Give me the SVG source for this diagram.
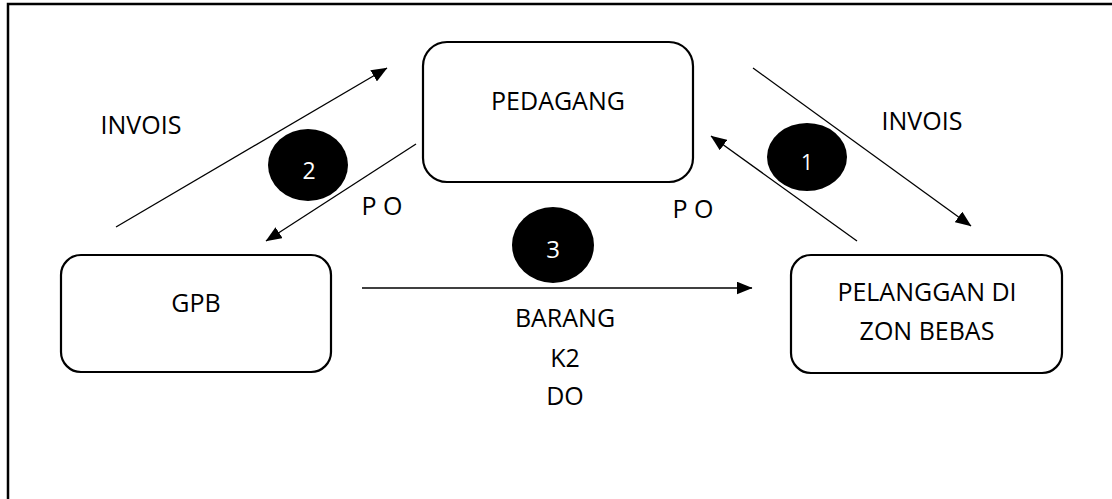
<svg xmlns="http://www.w3.org/2000/svg" width="1112" height="499" viewBox="0 0 1112 499">
<defs>
<style>
.t{font-family:"Open Sans","Noto Sans","Liberation Sans",sans-serif;font-size:25px;fill:#000;text-anchor:middle}
.n{font-family:"Open Sans","Noto Sans","Liberation Sans",sans-serif;fill:#fff;text-anchor:middle}
.box{fill:#fff;stroke:#000;stroke-width:2.2}
.c{stroke:#000;stroke-width:1.3;fill:none}
.dot{fill:#000}
</style>
<marker id="ah" viewBox="0 0 16 13" refX="15.5" refY="6.5" markerWidth="16" markerHeight="13" markerUnits="userSpaceOnUse" orient="auto">
<path d="M0,0 L16,6.5 L0,13 Z" fill="#000"/>
</marker>
</defs>
<rect x="0" y="0" width="1112" height="499" fill="#fff"/>
<rect x="8" y="4" width="1200" height="600" fill="none" stroke="#000" stroke-width="2.5"/>
<g id="connectors">
<line class="c" x1="116" y1="227" x2="387" y2="68" marker-end="url(#ah)"/>
<line class="c" x1="416" y1="144" x2="266" y2="241" marker-end="url(#ah)"/>
<line class="c" x1="753" y1="68" x2="971" y2="226" marker-end="url(#ah)"/>
<line class="c" x1="857" y1="241" x2="711" y2="136" marker-end="url(#ah)"/>
<line class="c" x1="362" y1="288" x2="752" y2="288" marker-end="url(#ah)"/>
</g>
<g id="pedagang">
<rect class="box" x="423" y="42" width="270" height="140" rx="24"/>
<text class="t" x="558" y="110">PEDAGANG</text>
</g>
<g id="gpb">
<rect class="box" x="61" y="255" width="270" height="117" rx="20"/>
<text class="t" x="196" y="312">GPB</text>
</g>
<g id="pelanggan">
<rect class="box" x="791" y="255" width="271" height="118" rx="20"/>
<text class="t" x="927" y="301">PELANGGAN DI</text>
<text class="t" x="927" y="340">ZON BEBAS</text>
</g>
<g id="step1">
<ellipse class="dot" cx="807" cy="157" rx="40" ry="34"/>
<text class="n" x="807" y="170" font-size="21">1</text>
</g>
<g id="step2">
<ellipse class="dot" cx="308" cy="165" rx="40" ry="36"/>
<text class="n" x="309" y="179" font-size="23">2</text>
</g>
<g id="step3">
<ellipse class="dot" cx="553" cy="245" rx="41" ry="38"/>
<text class="n" x="553" y="258" font-size="24">3</text>
</g>
<g id="labels">
<text class="t" x="141" y="134">INVOIS</text>
<text class="t" x="922" y="130">INVOIS</text>
<text class="t" x="382" y="215">P O</text>
<text class="t" x="693" y="218">P O</text>
<text class="t" x="565" y="327">BARANG</text>
<text class="t" x="565" y="367">K2</text>
<text class="t" x="565" y="405">DO</text>
</g>
</svg>
